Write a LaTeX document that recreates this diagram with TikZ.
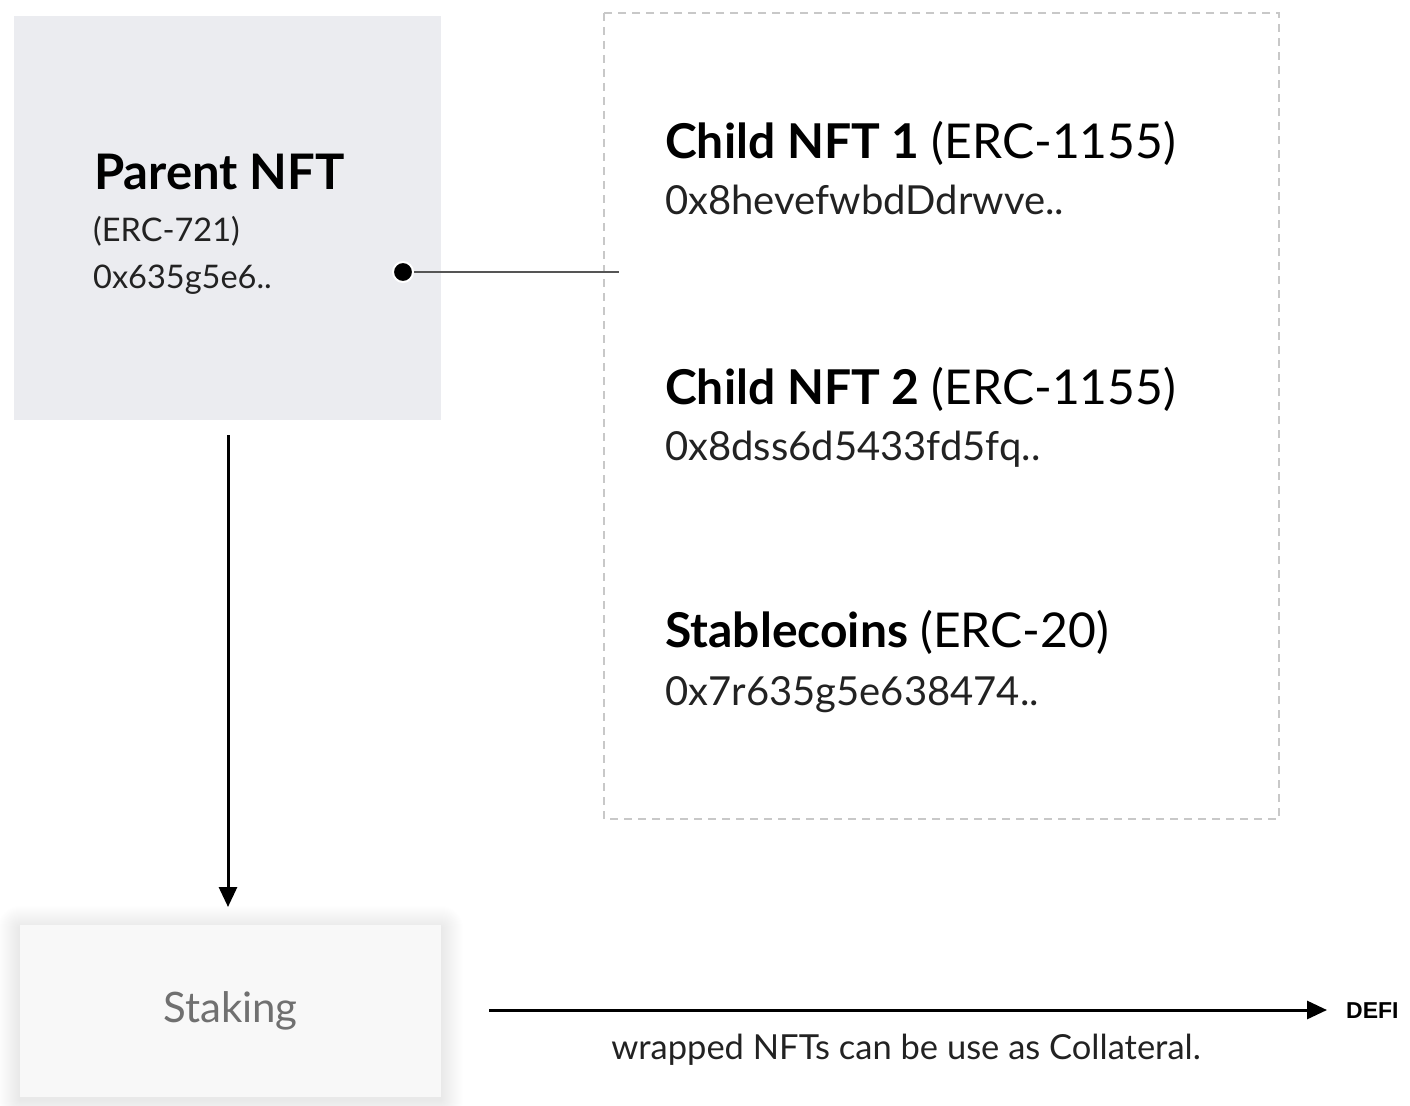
\documentclass[tikz,border=0pt]{standalone}
\usepackage{fontspec}
\setmainfont{Lato}
\newfontfamily\arialfont{Liberation Sans}
\usetikzlibrary{arrows.meta}
\definecolor{parentfill}{HTML}{EBECF0}
\definecolor{stakefill}{HTML}{F8F8F8}
\definecolor{dashgray}{HTML}{C8C8C8}
\definecolor{linegray}{HTML}{555555}
\definecolor{staketext}{HTML}{707070}
\definecolor{bodytext}{HTML}{222222}
\tikzset{
  boldlabel/.style={anchor=base west, inner sep=0pt, font=\fontsize{49}{54}\selectfont\bfseries, text=black},
  childlabel/.style={anchor=base west, inner sep=0pt, font=\fontsize{48}{52}\selectfont, text=black},
  smalllabel/.style={anchor=base west, inner sep=0pt, font=\fontsize{32.5}{36}\selectfont, text=bodytext},
  addrlabel/.style={anchor=base west, inner sep=0pt, font=\fontsize{40}{44}\selectfont, text=bodytext},
  arrowline/.style={line width=3pt, -{Triangle[length=20pt,width=18pt]}},
}
\begin{document}
\begin{tikzpicture}[x=1pt,y=-1pt]
\useasboundingbox (0,0) rectangle (1410,1105);
% parent box
\fill[parentfill] (14,16) rectangle (441,420);
\node[boldlabel] (parent) at (94,189) {Parent NFT};
\node[smalllabel] (erc721) at (93,241) {(ERC-721)};
\node[smalllabel] (paddr) at (93,288) {0x635g5e6..};
% dashed container
\draw[dashgray, line width=1.5pt, dash pattern=on 8pt off 6pt] (604,13) rectangle (1279,819);
\node[childlabel] (c1) at (665,158) {\textbf{Child NFT 1} (ERC-1155)};
\node[addrlabel] (c1a) at (665,214) {0x8hevefwbdDdrwve..};
\node[childlabel] (c2) at (665,404) {\textbf{Child NFT 2} (ERC-1155)};
\node[addrlabel] (c2a) at (665,460) {0x8dss6d5433fd5fq..};
\node[childlabel] (c3) at (665,647) {\textbf{Stablecoins} (ERC-20)};
\node[addrlabel] (c3a) at (665,705) {0x7r635g5e638474..};
% connector
\coordinate (dotc) at (403,272);
\coordinate (conend) at (619,272);
\draw[linegray, line width=2pt] (dotc) -- (conend);
\fill[black, draw=white, line width=2pt] (dotc) circle (10pt);
% staking box with soft shadow
\foreach \i in {1,2,...,22}{
  \fill[black, opacity=0.0045, rounded corners=\i pt] (20-\i,925-\i+3) rectangle (441+\i,1097+\i+3);
}
\fill[stakefill] (20,925) rectangle (441,1097);
\node[inner sep=0pt, font=\fontsize{42}{46}\selectfont, text=staketext] (staking) at (230.5,1011) {Staking};
% vertical arrow
\coordinate (vstart) at (228,435);
\coordinate (vend) at (228,907);
\draw[arrowline] (vstart) -- (vend);
% horizontal arrow
\coordinate (hstart) at (489,1010);
\node[anchor=west, inner sep=0pt, font=\arialfont\bfseries\fontsize{23}{26}\selectfont] (defi) at (1346,1011) {DEFI};
\coordinate (hend) at (1327,1010);
\draw[arrowline] (hstart) -- (hend);
\node[anchor=base, inner sep=0pt, font=\fontsize{34.5}{38}\selectfont, text=bodytext] (wrap) at (906,1059) {wrapped NFTs can be use as Collateral.};
\end{tikzpicture}
\end{document}
